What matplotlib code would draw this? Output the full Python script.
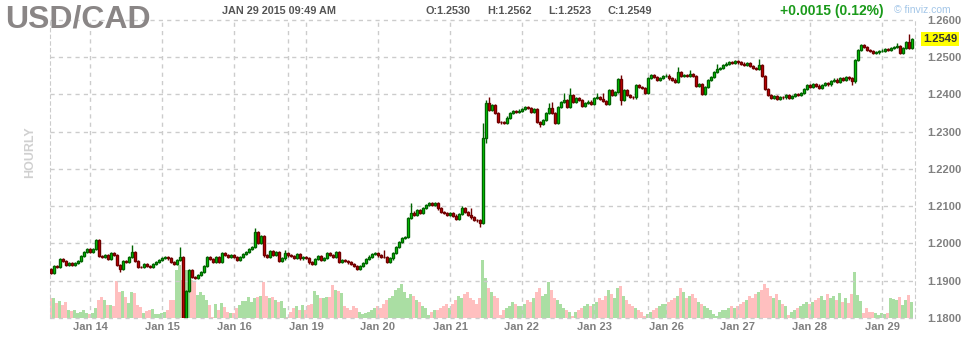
import matplotlib.pyplot as plt
from matplotlib.transforms import blended_transform_factory

plt.rcParams['font.family'] = ['Liberation Sans', 'DejaVu Sans']

# prices are stored in pips above 1.1800, one value per hourly candle
base_price = 1.1800
first_open = 132
closes = [
    121, 140, 137, 158, 153, 142, 147, 143, 148, 152,
    166, 177, 185, 178, 185, 209, 166, 164, 168, 158,
    175, 170, 142, 132, 153, 150, 164, 177, 153, 137,
    136, 145, 140, 138, 145, 150, 156, 161, 164, 160,
    150, 145, 156, 164, -10, 72, 129, 110, 107, 115,
    124, 140, 164, 158, 150, 164, 150, 175, 170, 163,
    168, 163, 156, 164, 172, 177, 185, 190, 231, 201,
    220, 168, 164, 180, 169, 178, 153, 160, 175, 168,
    166, 162, 171, 160, 163, 161, 149, 145, 158, 166,
    156, 162, 175, 169, 165, 178, 150, 156, 152, 149,
    145, 140, 131, 140, 148, 158, 165, 171, 174, 168,
    165, 164, 150, 160, 175, 190, 205, 214, 218, 268,
    283, 277, 290, 283, 296, 303, 308, 303, 308, 294,
    285, 281, 277, 281, 275, 266, 279, 294, 285, 277,
    270, 263, 262, 256, 482, 576, 558, 572, 550, 527,
    525, 523, 538, 550, 556, 554, 557, 561, 567, 563,
    552, 561, 527, 522, 532, 550, 565, 550, 523, 567,
    580, 586, 566, 599, 581, 590, 585, 570, 578, 581,
    574, 590, 592, 588, 583, 575, 612, 599, 607, 641,
    585, 611, 599, 593, 592, 626, 620, 617, 605, 644,
    653, 648, 639, 645, 650, 651, 643, 640, 633, 661,
    650, 653, 650, 655, 650, 624, 627, 602, 621, 639,
    647, 661, 668, 672, 680, 683, 688, 685, 690, 686,
    683, 680, 684, 676, 672, 668, 680, 650, 615, 598,
    590, 596, 588, 594, 592, 598, 590, 595, 600, 598,
    605, 615, 625, 620, 628, 624, 618, 626, 630, 627,
    636, 640, 634, 645, 640, 648, 643, 635, 693, 720,
    733, 727, 720, 716, 711, 713, 716, 718, 721, 719,
    724, 727, 730, 712, 724, 740, 724, 749,
]
# notable wick extremes (pips); other candles get a short wick
wick_highs = {15: 213, 27: 196, 43: 190, 68: 242, 78: 183, 111: 183, 120: 308,
              137: 300, 140: 296, 144: 524, 145: 585, 146: 592, 166: 578,
              167: 580, 171: 605, 173: 617, 182: 603, 184: 603, 190: 652,
              209: 675, 213: 666, 222: 683, 236: 696, 282: 738, 286: 762}
wick_lows = {23: 124, 44: -40, 45: -30, 143: 243, 145: 470, 163: 513,
             190: 572, 267: 626}

volumes = [
    20, 20, 15, 17, 13, 16, 8, 7, 8, 5,
    6, 8, 5, 4, 5, 10, 18, 21, 18, 13,
    13, 12, 37, 26, 27, 21, 15, 26, 25, 13,
    11, 5, 7, 8, 9, 4, 4, 5, 6, 8,
    18, 18, 48, 53, 38, 48, 48, 38, 36, 23,
    26, 23, 18, 13, 1, 14, 8, 15, 11, 6,
    5, 5, 10, 13, 17, 17, 21, 16, 20, 21,
    22, 36, 22, 20, 21, 18, 16, 17, 10, 1,
    6, 10, 12, 8, 13, 8, 13, 14, 27, 23,
    20, 20, 21, 21, 33, 28, 27, 25, 12, 10,
    8, 12, 10, 6, 4, 5, 6, 8, 10, 12,
    10, 14, 18, 20, 22, 28, 30, 34, 26, 20,
    24, 22, 18, 16, 12, 10, 3, 6, 8, 8,
    10, 12, 14, 10, 14, 18, 22, 20, 24, 26,
    20, 18, 14, 20, 58, 40, 30, 26, 22, 20,
    3, 8, 10, 12, 16, 14, 12, 12, 14, 18,
    16, 20, 26, 30, 22, 24, 36, 28, 20, 18,
    14, 10, 8, 6, 2, 6, 8, 10, 12, 14,
    12, 14, 16, 20, 18, 22, 28, 24, 20, 30,
    32, 22, 18, 14, 12, 10, 8, 6, 2, 4,
    6, 8, 10, 12, 14, 14, 16, 18, 20, 22,
    30, 26, 20, 22, 24, 20, 16, 14, 12, 10,
    8, 4, 2, 6, 8, 8, 10, 12, 10, 12,
    14, 16, 18, 22, 20, 24, 26, 28, 34, 30,
    22, 20, 24, 18, 14, 12, 3, 6, 8, 10,
    12, 14, 16, 14, 16, 18, 20, 22, 18, 24,
    20, 22, 18, 25, 16, 20, 15, 24, 46, 23,
    17, 5, 10, 6, 6, 5, 3, 5, 4, 5,
    20, 19, 18, 21, 13, 18, 23, 16,
]

day_idx = [13, 37, 61, 85, 109, 133, 157, 181, 205, 229, 253, 277]
day_labels = ['Jan 14', 'Jan 15', 'Jan 16', 'Jan 19', 'Jan 20', 'Jan 21',
              'Jan 22', 'Jan 23', 'Jan 26', 'Jan 27', 'Jan 28', 'Jan 29']
week_idx = [79, 199]
price_ticks = [1.18, 1.19, 1.20, 1.21, 1.22, 1.23, 1.24, 1.25, 1.26]
last_price = 1.2549

opens = [first_open] + closes[:-1]
xs = list(range(len(closes)))
up = [c >= o for o, c in zip(opens, closes)]


def px(p):
    return base_price + p / 10000.0


highs = [px(wick_highs.get(i, max(o, c) + 3)) for i, (o, c) in enumerate(zip(opens, closes))]
lows = [px(wick_lows.get(i, min(o, c) - 3)) for i, (o, c) in enumerate(zip(opens, closes))]
body_bottom = [px(min(o, c)) for o, c in zip(opens, closes)]
body_height = [max(abs(c - o), 1.0) / 10000.0 for o, c in zip(opens, closes)]

W, H = 964, 340
fig = plt.figure(figsize=(W / 100, H / 100), dpi=100)
rect = [50 / W, 22 / H, 865 / W, 298 / H]

# volume panel underneath
axv = fig.add_axes(rect)
axv.bar(xs, volumes, width=1.0, linewidth=0,
        color=['#aadea3' if u else '#ffbfbf' for u in up])
axv.set_ylim(0, 298)
axv.set_xlim(-0.33, 288)
axv.axis('off')

ax = fig.add_axes(rect, sharex=axv)
ax.patch.set_alpha(0)
ax.set_xlim(-0.33, 288)
ax.set_ylim(1.18, 1.26)

grid_kw = dict(color='#cccccc', lw=1, ls=(0, (3, 3)), zorder=0)
for y in price_ticks:
    ax.axhline(y, clip_on=False, **grid_kw)
for x in day_idx + week_idx:
    ax.axvline(x, **grid_kw)
for side in ['top', 'bottom']:
    ax.spines[side].set_visible(False)
for side in ['left', 'right']:
    ax.spines[side].set_color('#cccccc')
    ax.spines[side].set_linestyle((0, (3, 3)))

ax.vlines(xs, lows, highs, colors=['#006400' if u else '#700000' for u in up],
          lw=1, zorder=2)
ax.bar(xs, body_height, bottom=body_bottom, width=0.8,
       color=['#00ee00' if u else '#e00000' for u in up],
       edgecolor=['#006400' if u else '#700000' for u in up],
       linewidth=1.0, zorder=3)

ax.yaxis.tick_right()
ax.set_yticks(price_ticks)
ax.set_yticklabels([f'{t:.4f}' for t in price_ticks])
ax.tick_params(axis='y', length=0, pad=9, labelsize=8, labelcolor='#808080')
ax.set_xticks(day_idx)
ax.set_xticklabels(day_labels)
ax.tick_params(axis='x', length=0, pad=3, labelsize=8, labelcolor='#808080')
for lbl in ax.get_yticklabels() + ax.get_xticklabels():
    lbl.set_fontweight('bold')

trans = blended_transform_factory(ax.transAxes, ax.transData)
ax.text(1.009, last_price, f'{last_price:.4f}', transform=trans, ha='left',
        va='center', fontsize=8, fontweight='bold', color='#333333',
        bbox=dict(facecolor='#ffff00', edgecolor='none', pad=1.5))


def fy(y):
    return 1 - y / H


fig.text(5 / W, fy(19), 'USD/CAD', fontsize=23, fontweight='bold',
         color='#8a8686', va='center')
hdr = dict(fontsize=7.8, fontweight='bold', color='#555555', va='center')
fig.text(222 / W, fy(11), 'JAN 29 2015 09:49 AM', **hdr)
fig.text(425 / W, fy(11), 'O:1.2530', **hdr)
fig.text(487 / W, fy(11), 'H:1.2562', **hdr)
fig.text(548 / W, fy(11), 'L:1.2523', **hdr)
fig.text(607 / W, fy(11), 'C:1.2549', **hdr)
fig.text(780 / W, fy(11), '+0.0015 (0.12%)', fontsize=10, fontweight='bold',
         color='#1a9a1a', va='center')
fig.text(894 / W, fy(10), '© finviz.com', fontsize=7.5, color='#a3c6e8',
         va='center')
fig.text(30 / W, fy(152), 'HOURLY', fontsize=9, fontweight='bold',
         color='#d0d0d0', rotation=90, ha='center', va='center')

fig.savefig('out.png', dpi=100)
